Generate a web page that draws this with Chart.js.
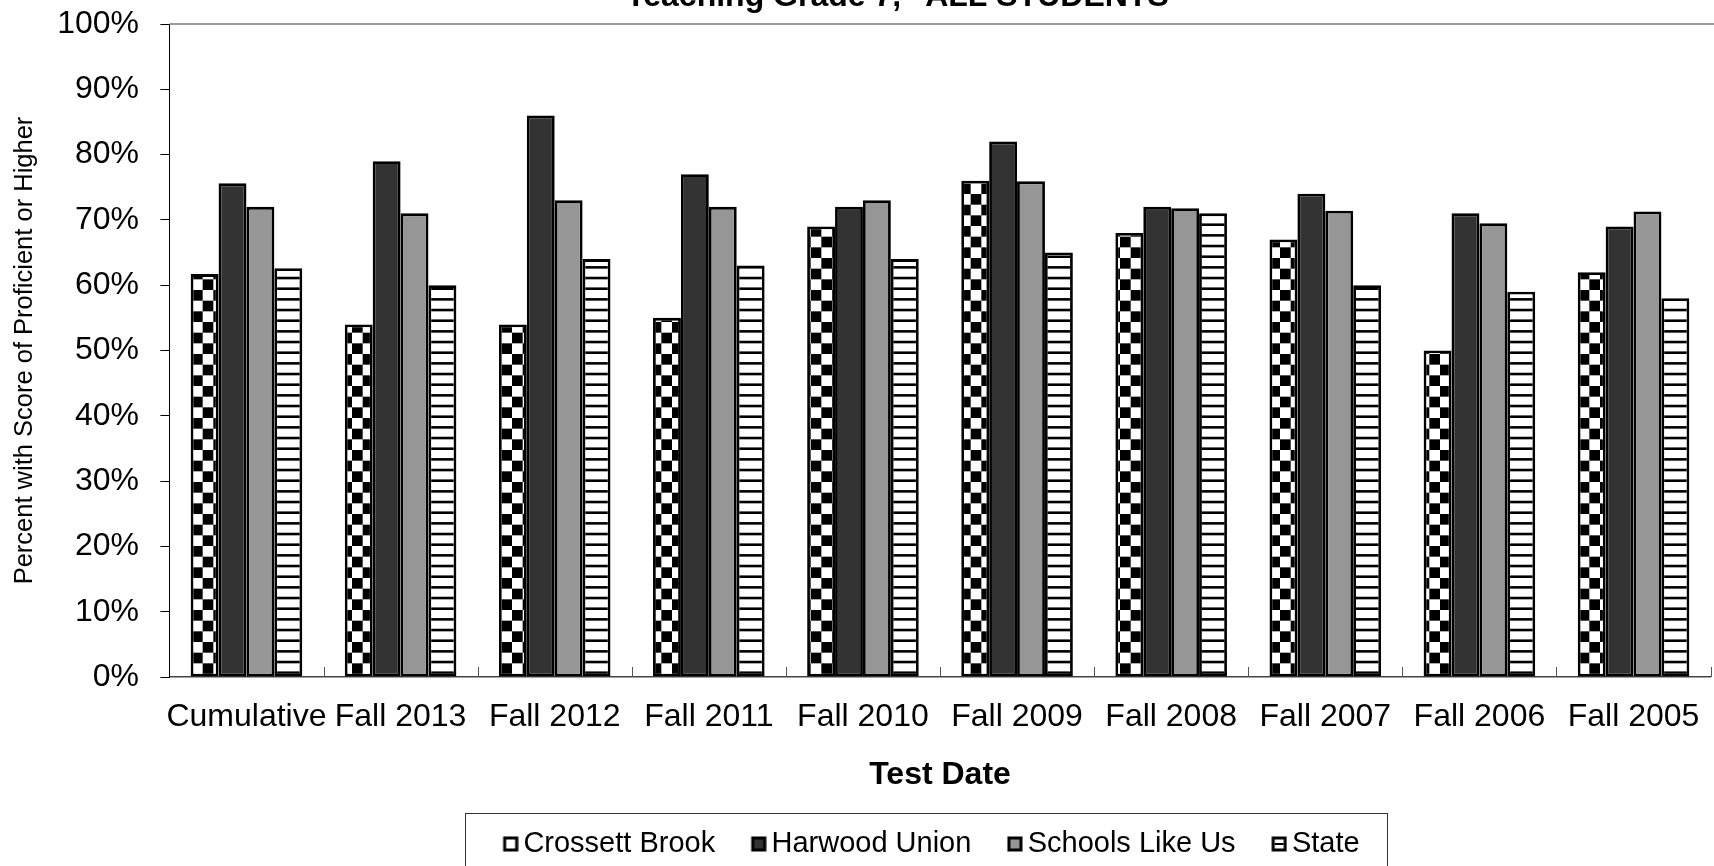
<!DOCTYPE html>
<html>
<head>
<meta charset="utf-8">
<script src="https://cdn.jsdelivr.net/npm/chart.js@4.4.1/dist/chart.umd.min.js"></script>
<style>
  html, body { margin: 0; padding: 0; background: #fff; overflow: hidden; width: 1714px; height: 866px; }
  #wrap { position: absolute; left: 0; top: -30px; width: 1814px; height: 910px; }
</style>
</head>
<body>
<div id="wrap"><canvas id="c" width="1814" height="910" style="width:1814px;height:910px"></canvas></div>
<script>
const titleText = 'Teaching Grade 7, "ALL STUDENTS"';
const xTitle = 'Test Date';
const yTitle = 'Percent with Score of Proficient or Higher';
const categories = ['Cumulative', 'Fall 2013', 'Fall 2012', 'Fall 2011', 'Fall 2010', 'Fall 2009', 'Fall 2008', 'Fall 2007', 'Fall 2006', 'Fall 2005'];
const seriesNames = ['Crossett Brook', 'Harwood Union', 'Schools Like Us', 'State'];
const crossettBrook = [61.7, 54, 54, 55, 69, 76, 68, 67, 50, 62];
const harwoodUnion = [75.6, 79, 86, 77, 72, 82, 72, 74, 71, 69];
const schoolsLikeUs = [72, 71, 73, 72, 73, 75.9, 71.8, 71.4, 69.5, 71.3];
const stateValues = [62.6, 60, 64, 63, 64, 65, 71, 60, 59, 58];
const yTickValues = [0, 10, 20, 30, 40, 50, 60, 70, 80, 90, 100];

const FONT = "'Liberation Sans', Arial, Helvetica, sans-serif";
Chart.defaults.font.family = FONT;
Chart.defaults.color = '#000';

function checkerPattern() {
  const c = document.createElement('canvas');
  c.width = 64; c.height = 64;
  const g = c.getContext('2d');
  g.fillStyle = '#fff'; g.fillRect(0, 0, 64, 64);
  g.fillStyle = '#000';
  const s = 64 / 6;
  for (let r = 0; r < 6; r++) for (let k = 0; k < 6; k++) {
    if ((r + k) % 2 === 0) g.fillRect(k * s, r * s, s, s);
  }
  return g.createPattern(c, 'repeat');
}
function stripePattern() {
  const c = document.createElement('canvas');
  c.width = 8; c.height = 32;
  const g = c.getContext('2d');
  g.fillStyle = '#fff'; g.fillRect(0, 0, 8, 32);
  g.fillStyle = '#000';
  const s = 32 / 3;
  for (let r = 0; r < 3; r++) g.fillRect(0, r * s + s - 2.6, 8, 2.6);
  return g.createPattern(c, 'repeat');
}
function legendMarker(kind) {
  const c = document.createElement('canvas');
  c.width = 26; c.height = 16;
  const g = c.getContext('2d');
  const x0 = 10.5, y0 = 0.5, sz = 15;
  g.fillStyle = '#000';
  g.fillRect(x0, y0, sz, sz);
  const inner = kind === 1 ? '#333333' : kind === 2 ? '#969696' : '#fff';
  g.fillStyle = inner;
  g.fillRect(x0 + 3, y0 + 3, sz - 6, sz - 6);
  if (kind === 3) { g.fillStyle = '#000'; g.fillRect(x0 + 3, y0 + 6.5, sz - 6, 2); }
  return c;
}

const shiftPlugin = {
  id: 'shiftBlocks',
  afterLayout(chart) {
    const t = chart.titleBlock;
    if (t) { t.left -= 35; t.right -= 35; }
    const l = chart.legend;
    if (l) { l.left -= 9; l.right -= 9; }
  }
};

const framePlugin = {
  id: 'frame',
  afterDraw(chart) {
    const ctx = chart.ctx, a = chart.chartArea;
    ctx.save();
    ctx.strokeStyle = '#7a7a7a';
    ctx.lineWidth = 1.5;
    ctx.beginPath();
    ctx.moveTo(a.left, a.top);
    ctx.lineTo(chart.width, a.top);
    ctx.stroke();
    const xs = chart.scales.x;
    const n = categories.length;
    const cw = (xs.getPixelForValue(n - 1) - xs.getPixelForValue(0)) / (n - 1);
    ctx.strokeStyle = '#555';
    ctx.lineWidth = 1;
    for (let i = 1; i <= n; i++) {
      const x = Math.round(xs.getPixelForValue(i) - cw / 2) + 0.5;
      ctx.beginPath();
      ctx.moveTo(x, a.bottom);
      ctx.lineTo(x, a.bottom - 10);
      ctx.stroke();
    }
    const lg = chart.legend;
    if (lg && lg.legendHitBoxes && lg.legendHitBoxes.length) {
      const hb = lg.legendHitBoxes;
      const first = hb[0], last = hb[hb.length - 1];
      const cy = first.top + first.height / 2;
      const left = first.left - 37, right = last.left + last.width + 28;
      ctx.strokeStyle = '#333';
      ctx.lineWidth = 1;
      ctx.strokeRect(Math.round(left) + 0.5, Math.round(cy - 31) + 0.5, Math.round(right - left), 80);
    }
    ctx.restore();
  }
};

const ctx = document.getElementById('c').getContext('2d');
const seriesData = [crossettBrook, harwoodUnion, schoolsLikeUs, stateValues];
const fills = [checkerPattern(), '#333333', '#969696', stripePattern()];
const markers = [legendMarker(0), legendMarker(1), legendMarker(2), legendMarker(3)];

new Chart(ctx, {
  type: 'bar',
  data: {
    labels: categories,
    datasets: seriesNames.map((name, i) => ({
      label: name,
      data: seriesData[i],
      backgroundColor: fills[i],
      borderColor: '#000',
      borderWidth: 2.8,
      borderSkipped: false,
      categoryPercentage: 0.724,
      barPercentage: 1
    }))
  },
  options: {
    responsive: false,
    animation: false,
    devicePixelRatio: 1,
    layout: { padding: { top: 0, left: 0, right: 103.4, bottom: 11.5 } },
    plugins: {
      tooltip: { enabled: false },
      title: {
        display: true,
        text: titleText,
        fullSize: false,
        color: '#000',
        font: { size: 32, weight: 'bold', family: FONT },
        padding: { top: 7.7, bottom: 7.9 }
      },
      legend: {
        display: true,
        position: 'bottom',
        fullSize: false,
        labels: {
          color: '#000',
          font: { size: 29, family: FONT },
          usePointStyle: true,
          pointStyleWidth: 6.5,
          boxHeight: 16,
          padding: 35.3,
          generateLabels(chart) {
            const items = Chart.defaults.plugins.legend.labels.generateLabels(chart);
            items.forEach((it, i) => { it.pointStyle = markers[i]; });
            return items;
          }
        }
      }
    },
    scales: {
      x: {
        type: 'category',
        offset: true,
        grid: { display: true, drawOnChartArea: false, drawTicks: false, color: 'rgba(0,0,0,0)' },
        border: { display: true, color: '#444', width: 1.5 },
        ticks: { color: '#000', font: { size: 32, family: FONT }, padding: 20.8, maxRotation: 0, autoSkip: false },
        title: { display: true, text: xTitle, color: '#000', font: { size: 32, weight: 'bold', family: FONT }, padding: { top: 0, bottom: 0 } },
        afterFit(scale) { scale.height = 117.2; }
      },
      y: {
        min: 0,
        max: 100,
        afterBuildTicks(scale) { scale.ticks = yTickValues.map(v => ({ value: v })); },
        grid: { display: true, drawOnChartArea: false, drawTicks: true, tickLength: 9, color: '#000', lineWidth: 1 },
        border: { display: true, color: '#000', width: 1 },
        ticks: { color: '#000', font: { size: 32, family: FONT }, padding: 21.4, callback: v => v + '%' },
        title: { display: true, text: yTitle, color: '#000', font: { size: 25.5, family: FONT }, padding: { top: 10, bottom: 0 } },
        afterFit(scale) { scale.width = 169.4; }
      }
    }
  },
  plugins: [shiftPlugin, framePlugin]
});
</script>
</body>
</html>
